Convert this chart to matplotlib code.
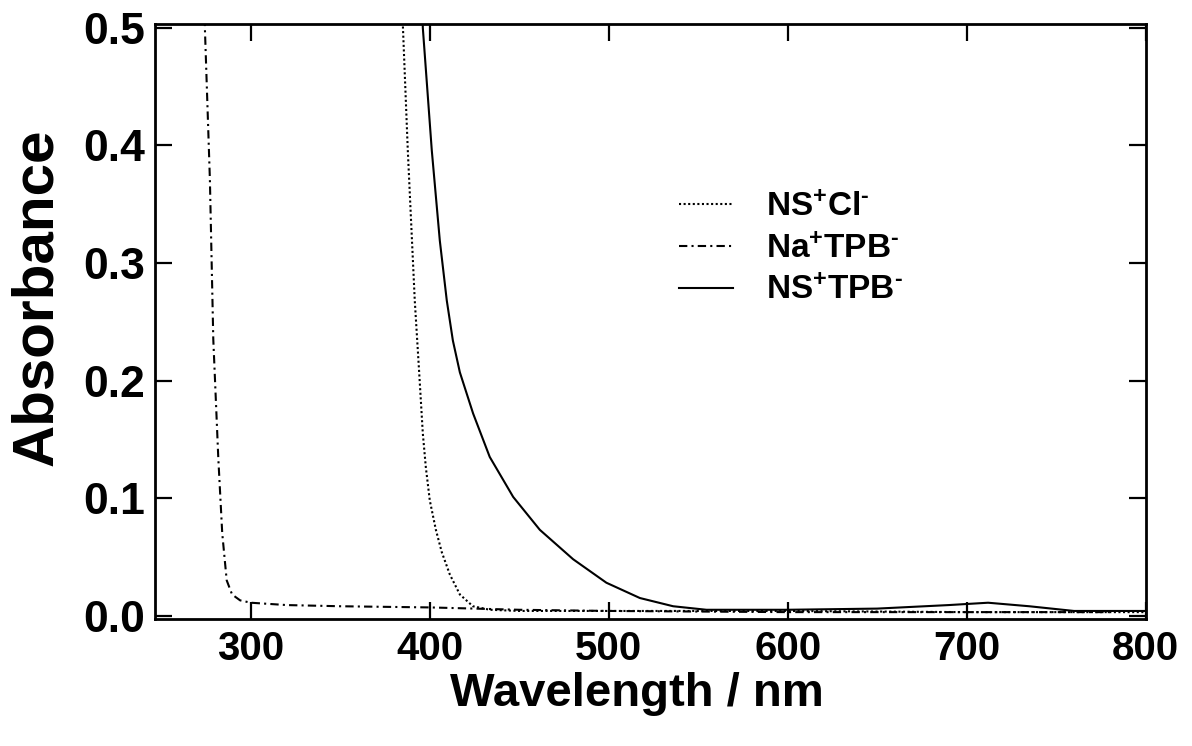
#-------------------------------------------------------------------------
# Imports
import matplotlib
matplotlib.use("Agg")
import matplotlib.pyplot as plt
import numpy             as np

#-------------------------------------------------------------------------



#-------------------------------------------------------------------------
# Data

# NS+Cl- (dotted)
nscl_wl  = [384.2, 385.0, 387.7, 391.6, 393.9, 396.1, 397.8, 400.0, 403.4, 406.7, 411.2, 416.8, 424.1, 433.6, 450.0, 500.0, 600.0, 700.0, 800.0]
nscl_abs = [0.560, 0.500, 0.396, 0.268, 0.211, 0.155, 0.126, 0.098, 0.073, 0.054, 0.035, 0.018, 0.008, 0.005, 0.004, 0.004, 0.004, 0.003, 0.003]

# Na+TPB- (dash-dot)
natpb_wl  = [273.9, 274.3, 277.1, 279.0, 281.8, 284.0, 286.5, 289.5, 294.0, 300.0, 320.0, 350.0, 400.0, 450.0, 500.0, 600.0, 700.0, 780.0]
natpb_abs = [0.560, 0.500, 0.371, 0.235, 0.134, 0.070, 0.030, 0.018, 0.013, 0.011, 0.009, 0.008, 0.007, 0.005, 0.004, 0.003, 0.003, 0.003]

# NS+TPB- (solid)
nstpb_wl  = [395.3, 396.1, 401.1, 405.6, 409.5, 412.9, 416.8, 424.2, 433.5, 446.6, 461.5, 480.1, 498.7, 517.4, 536.0, 554.6, 600.0, 650.0, 690.0, 712.0, 735.0, 760.0, 800.0]
nstpb_abs = [0.560, 0.500, 0.396, 0.319, 0.268, 0.234, 0.207, 0.172, 0.135, 0.101, 0.073, 0.048, 0.028, 0.015, 0.008, 0.005, 0.005, 0.006, 0.009, 0.011, 0.008, 0.004, 0.004]

labels = [r"NS$^{+}$Cl$^{\text{-}}$", r"Na$^{+}$TPB$^{\text{-}}$", r"NS$^{+}$TPB$^{\text{-}}$"]

xticks = [300, 400, 500, 600, 700, 800]
yticks = [0.0, 0.1, 0.2, 0.3, 0.4, 0.5]

#-------------------------------------------------------------------------



#-------------------------------------------------------------------------
# Plot Parameters

plt.rcParams['font.family']      = 'Liberation Sans'
plt.rcParams['font.weight']      = 'bold'
plt.rcParams['mathtext.fontset'] = 'custom'
plt.rcParams['mathtext.rm']      = 'Liberation Sans:bold'
plt.rcParams['mathtext.bf']      = 'Liberation Sans:bold'
plt.rcParams['mathtext.default'] = 'bf'

line_w  = 1.5
spine_w = 2.0

#-------------------------------------------------------------------------



#-------------------------------------------------------------------------
# Plotting

fig = plt.figure(figsize=(11.92, 7.46), dpi=100)
ax  = fig.add_axes([0.130, 0.170, 0.831, 0.798])

ax.plot(nscl_wl,  nscl_abs,  color='black', lw=line_w, linestyle=(0, (1, 1.2)),     label=labels[0])
ax.plot(natpb_wl, natpb_abs, color='black', lw=line_w, linestyle=(0, (4, 2, 1, 2)), label=labels[1])
ax.plot(nstpb_wl, nstpb_abs, color='black', lw=line_w, linestyle='-',               label=labels[2])

ax.set_xlim(246.4, 800)
ax.set_ylim(-0.003, 0.5034)
ax.set_xticks(xticks)
ax.set_yticks(yticks)
ax.set_yticklabels([f"{v:.1f}" for v in yticks])

ax.tick_params(axis='both', direction='in', length=12, width=1.6,
               top=True, right=True)
ax.tick_params(axis='x', labelsize=29, pad=8)
ax.tick_params(axis='y', labelsize=32, pad=7)

for sp in ax.spines.values():
    sp.set_linewidth(spine_w)

ax.set_xlabel("Wavelength / nm", fontsize=34, fontweight='bold')
ax.set_ylabel("Absorbance",      fontsize=42, fontweight='bold')
ax.xaxis.set_label_coords(0.487, -0.089)
ax.yaxis.set_label_coords(-0.092, 0.541)

leg = ax.legend(loc='upper left', bbox_to_anchor=(0.516, 0.74), borderaxespad=0,
                frameon=False, fontsize=24, handlelength=1.6, handletextpad=1.0,
                labelspacing=0.32)

#-------------------------------------------------------------------------



#-------------------------------------------------------------------------
# Saving Plot

plt.savefig("out.png", dpi=100)

#-------------------------------------------------------------------------
